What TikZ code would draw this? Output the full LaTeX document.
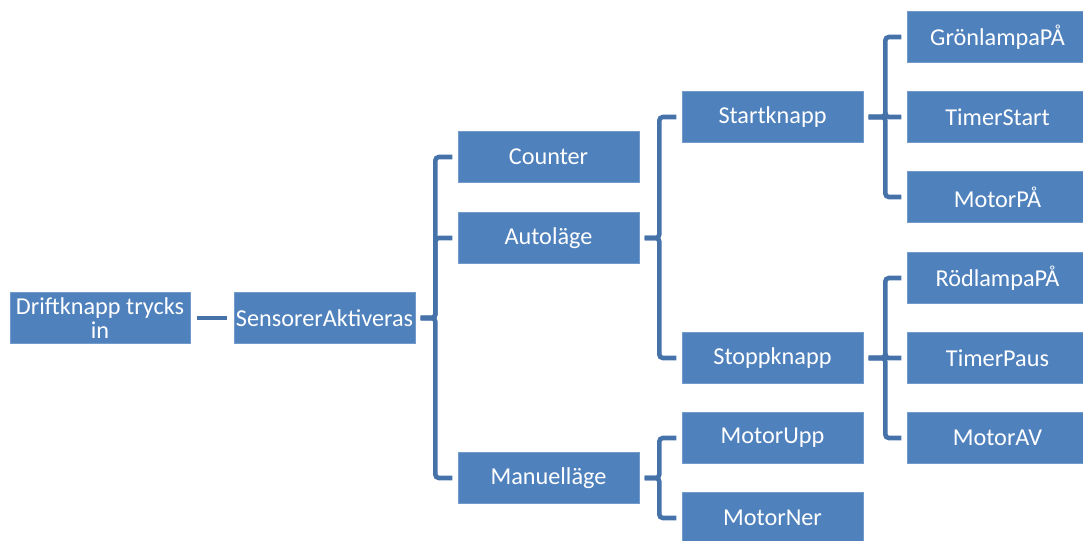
\documentclass[tikz,border=0pt]{standalone}
\usepackage{fontspec}
\setmainfont{Carlito}
\usetikzlibrary{positioning}

\definecolor{boxblue}{HTML}{4F81BD}
\definecolor{linkblue}{HTML}{4672AA}

\begin{document}
\begin{tikzpicture}[
    x=0.02cm, y=-0.02cm,
    box/.style={rectangle, draw=boxblue!80!white, fill=boxblue, text=white, minimum width=3.62cm, minimum height=1.02cm, align=center, inner sep=1pt, font=\fontsize{13.8}{13.2}\selectfont},
    link/.style={draw=linkblue, line width=2.6pt, rounded corners=2pt, shorten <=3pt, shorten >=3pt}
]
    \useasboundingbox (0,0) rectangle (1083,541);

    % Level 1 and 2
    \node (drift) [box, minimum width=3.6cm] at (100,318) {Driftknapp trycks\\in};
    \node (sens) [box] at (324.5,318) {SensorerAktiveras};

    % Level 3
    \node (count) [box] at (548.5,157) {Counter};
    \node (auto) [box] at (548.5,238) {Autoläge};
    \node (manu) [box] at (548.5,478) {Manuelläge};

    % Level 4
    \node (start) [box] at (772.5,117) {Startknapp};
    \node (stopp) [box] at (772.5,358) {Stoppknapp};
    \node (mupp) [box] at (772.5,438) {MotorUpp};
    \node (mner) [box] at (772.5,518) {MotorNer};

    % Level 5
    \node (gron) [box] at (997.5,37) {GrönlampaPÅ};
    \node (tstart) [box] at (997.5,117) {TimerStart};
    \node (mpa) [box] at (997.5,197) {MotorPÅ};
    \node (rod) [box] at (997.5,278) {RödlampaPÅ};
    \node (tpaus) [box] at (997.5,358) {TimerPaus};
    \node (mav) [box] at (997.5,438) {MotorAV};

    % Connectors
    \draw [link, shorten <=4pt, shorten >=4pt] (drift) -- (sens);

    \foreach \t in {count, auto, manu}
        \draw [link] (sens.east) -- ++(20,0) |- (\t.west);

    \foreach \t in {start, stopp}
        \draw [link] (auto.east) -- ++(20,0) |- (\t.west);

    \foreach \t in {mupp, mner}
        \draw [link] (manu.east) -- ++(20,0) |- (\t.west);

    \foreach \t in {gron, tstart, mpa}
        \draw [link] (start.east) -- ++(22,0) |- (\t.west);

    \foreach \t in {rod, tpaus, mav}
        \draw [link] (stopp.east) -- ++(22,0) |- (\t.west);

\end{tikzpicture}
\end{document}
